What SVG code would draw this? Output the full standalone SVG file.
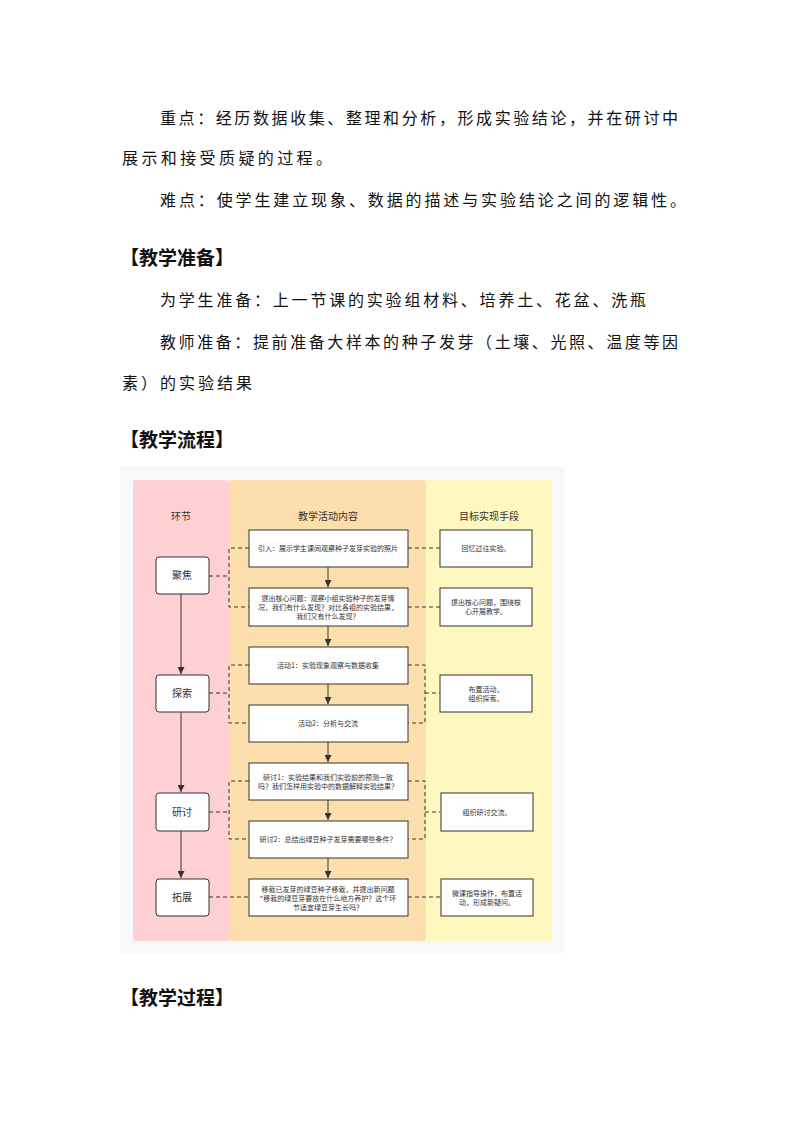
<svg xmlns="http://www.w3.org/2000/svg" width="794" height="1123" viewBox="0 0 794 1123">
<style>
.t{font-family:"Noto Sans CJK SC",sans-serif;font-size:16px;fill:#111}
.h{font-family:"Noto Sans CJK SC",sans-serif;font-size:19px;font-weight:bold;fill:#111}
.col{font-family:"Noto Sans CJK SC",sans-serif;font-size:10px;fill:#333;text-anchor:middle}
.s{font-family:"Noto Sans CJK SC",sans-serif;font-size:7px;fill:#333;text-anchor:middle}
.n{font-family:"Noto Sans CJK SC",sans-serif;font-size:10px;fill:#333;text-anchor:middle}
.b{fill:#fff;stroke:#333;stroke-width:1}
.d{fill:none;stroke:#333;stroke-width:1;stroke-dasharray:4,3}
.a{fill:none;stroke:#333;stroke-width:1;marker-end:url(#ar)}
</style>
<defs><marker id="ar" viewBox="0 0 8 8" refX="8" refY="4" markerWidth="7" markerHeight="7" orient="auto"><path d="M0,0L8,4L0,8z" fill="#333"/></marker></defs>
<rect width="794" height="1123" fill="#fff"/>
<text class="t" x="160" y="124" textLength="518">重点：经历数据收集、整理和分析，形成实验结论，并在研讨中</text>
<text class="t" x="122" y="164" textLength="210">展示和接受质疑的过程。</text>
<text class="t" x="160" y="206" textLength="526">难点：使学生建立现象、数据的描述与实验结论之间的逻辑性。</text>
<text class="h" x="120" y="265">【教学准备】</text>
<text class="t" x="160" y="306" textLength="486">为学生准备：上一节课的实验组材料、培养土、花盆、洗瓶</text>
<text class="t" x="160" y="348" textLength="518">教师准备：提前准备大样本的种子发芽（土壤、光照、温度等因</text>
<text class="t" x="122" y="389" textLength="130">素）的实验结果</text>
<text class="h" x="120" y="447">【教学流程】</text>
<text class="h" x="120" y="1005">【教学过程】</text>
<g id="flow">
<rect x="120" y="466" width="444" height="487" fill="#f8f8f8"/>
<rect x="133" y="480" width="96" height="461" rx="3" fill="#fecfd3"/>
<rect x="229" y="480" width="197" height="461" rx="3" fill="#fddfae"/>
<rect x="426" y="480" width="126" height="461" rx="3" fill="#fef7c0"/>
<text class="col" x="181" y="520">环节</text>
<text class="col" x="328" y="520">教学活动内容</text>
<text class="col" x="489" y="520">目标实现手段</text>
</g>
<g id="connectors">
<path class="a" d="M181,594V674"/><path class="a" d="M181,712V792"/><path class="a" d="M181,831V878"/>
<path class="a" d="M328,567V587"/><path class="a" d="M328,626V646"/><path class="a" d="M328,684V704"/><path class="a" d="M328,742V762"/><path class="a" d="M328,800V820"/><path class="a" d="M328,858V878"/>
<path class="d" d="M209,576H229M249,548H229V607H249"/>
<path class="d" d="M408,548H440M408,607H440"/>
<path class="d" d="M209,693H229M249,665H229V723H249M408,665H425V723H408M425,693H440"/>
<path class="d" d="M209,812H229M249,781H229V839H249M408,781H425V839H408M425,812H440"/>
<path class="d" d="M209,897H249M408,897H440"/>
</g>
<g id="left">
<rect class="b" x="156" y="557" width="53" height="37" rx="3"/><text class="n" x="182" y="579">聚焦</text>
<rect class="b" x="156" y="675" width="53" height="37" rx="3"/><text class="n" x="182" y="697">探索</text>
<rect class="b" x="156" y="793" width="53" height="38" rx="3"/><text class="n" x="182" y="816">研讨</text>
<rect class="b" x="156" y="879" width="53" height="37" rx="3"/><text class="n" x="182" y="901">拓展</text>
</g>
<g id="mid">
<rect class="b" x="249" y="530" width="159" height="37"/><text class="s" x="328" y="551">引入：展示学生课间观察种子发芽实验的照片</text>
<rect class="b" x="249" y="588" width="159" height="38"/><text class="s"><tspan x="328" y="601">提出核心问题：观察小组实验种子的发芽情</tspan><tspan x="328" y="610">况，我们有什么发现？对比各组的实验结果，</tspan><tspan x="328" y="619">我们又有什么发现？</tspan></text>
<rect class="b" x="249" y="647" width="159" height="37"/><text class="s" x="328" y="668">活动1：实验现象观察与数据收集</text>
<rect class="b" x="249" y="705" width="159" height="37"/><text class="s" x="328" y="726">活动2：分析与交流</text>
<rect class="b" x="249" y="763" width="159" height="37"/><text class="s"><tspan x="328" y="780">研讨1：实验结果和我们实验前的预测一致</tspan><tspan x="328" y="789">吗？我们怎样用实验中的数据解释实验结果？</tspan></text>
<rect class="b" x="249" y="821" width="159" height="37"/><text class="s" x="328" y="842">研讨2：总结出绿豆种子发芽需要哪些条件？</text>
<rect class="b" x="249" y="879" width="159" height="37"/><text class="s"><tspan x="328" y="892">移栽已发芽的绿豆种子移栽，并提出新问题</tspan><tspan x="328" y="901">"移栽的绿豆芽要放在什么地方养护？这个环</tspan><tspan x="328" y="910">节适宜绿豆芽生长吗？</tspan></text>
</g>
<g id="right">
<rect class="b" x="440" y="530" width="92" height="37"/><text class="s" x="486" y="551">回忆过往实验。</text>
<rect class="b" x="440" y="588" width="92" height="38"/><text class="s"><tspan x="486" y="605">提出核心问题，围绕核</tspan><tspan x="486" y="614">心开展教学。</tspan></text>
<rect class="b" x="440" y="675" width="92" height="37"/><text class="s"><tspan x="486" y="692">布置活动，</tspan><tspan x="486" y="701">组织探索。</tspan></text>
<rect class="b" x="441" y="793" width="92" height="38"/><text class="s" x="487" y="815">组织研讨交流。</text>
<rect class="b" x="441" y="879" width="92" height="37"/><text class="s"><tspan x="487" y="896">微课指导操作，布置活</tspan><tspan x="487" y="905">动，形成新疑问。</tspan></text>
</g>
</svg>
